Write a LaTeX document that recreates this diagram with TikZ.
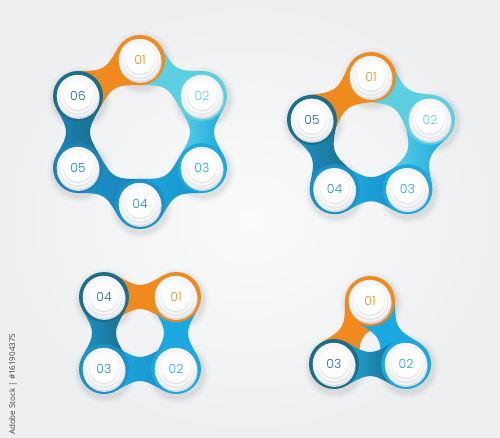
\documentclass[tikz,border=0pt]{standalone}
\usepackage{fontspec}
\setmainfont{Poppins}[UprightFont=* Light]
\newfontfamily\wmfont{Open Sans}
\usetikzlibrary{calc}
\definecolor{orng}{HTML}{F08A1E}
\definecolor{lcyan}{HTML}{5CCFE0}
\definecolor{cyanb}{HTML}{1CA8E0}
\definecolor{blueb}{HTML}{1A92C9}
\definecolor{mblue}{HTML}{1A83B8}
\definecolor{tealb}{HTML}{1B6E88}
\definecolor{rimA}{HTML}{DCDFE2}
\definecolor{rimB}{HTML}{E6E8EA}
\definecolor{diskA}{HTML}{F3F4F5}
\definecolor{diskB}{HTML}{FAFAFB}
\definecolor{bgin}{HTML}{FBFBFB}
\definecolor{bgout}{HTML}{EDEFF0}
\definecolor{wmgray}{HTML}{444444}
\tikzset{
  lbl/.style={text=#1, font=\fontsize{12.5}{12.5}\selectfont, inner sep=0pt},
  wmtext/.style={text=wmgray, font=\wmfont\fontsize{8}{8}\selectfont, inner sep=0pt},
}
% connector between two named unit centres, shaded from colour #3 to colour #4
\newcommand\mylink[4]{%
  \path let \p1=(#1), \p2=(#2),
    \n1={atan2(\y2-\y1,\x2-\x1)}, \n2={veclen(\x2-\x1,\y2-\y1)} in
    \pgfextra{\xdef\lkang{\n1}\xdef\lkdist{\n2}};
  \begin{scope}[shift={(#1)}, rotate=\lkang]
    \shade[left color=#3, right color=#4] (12.5,21.7) .. controls (34.9,8.75) and ({\lkdist-34.9},8.75) .. ({\lkdist-12.5},21.7)
      -- ({\lkdist-12.5},-21.7) .. controls ({\lkdist-34.9},-8.75) and (34.9,-8.75) .. (12.5,-21.7) -- cycle;
  \end{scope}}
\newcommand\unitshadow[1]{%
  \foreach \r/\o in {32/0.02,29.5/0.03,27.5/0.04}
    \fill[black,opacity=\o] ($(#1)+(1.5,3)$) circle (\r pt);}
\newcommand\unitdisk[3]{%
  \fill[#2] (#1) circle (25pt);
  \fill[rimA] ($(#1)+(0.3,1.6)$) circle (21.3pt);
  \fill[diskA] ($(#1)+(-0.3,-0.2)$) circle (21pt);
  \fill[rimB] ($(#1)+(0,1.2)$) circle (18pt);
  \fill[diskB] ($(#1)+(0,-0.4)$) circle (17.6pt);
  \fill[rimB] ($(#1)+(0,0.8)$) circle (14.6pt);
  \fill[white] ($(#1)+(0,-0.6)$) circle (14.2pt);
  \node[lbl=#2] (#1l) at (#1) {#3};}
\begin{document}
\begin{tikzpicture}[x=1pt,y=-1pt]
\shade[inner color=bgin, outer color=bgout] (0,0) rectangle (500,437);
\useasboundingbox (0,0) rectangle (500,437);
% centres
\coordinate (h1) at (140,60);  \coordinate (h2) at (202,96);
\coordinate (h3) at (202,168); \coordinate (h4) at (140,204);
\coordinate (h5) at (78,168);  \coordinate (h6) at (78,96);
\coordinate (p1) at (371,77);    \coordinate (p2) at (430,119.8);
\coordinate (p3) at (407.4,189.2); \coordinate (p4) at (334.6,189.2);
\coordinate (p5) at (312,119.8);
\coordinate (q1) at (176,297); \coordinate (q2) at (176,369);
\coordinate (q3) at (104,369); \coordinate (q4) at (104,297);
\coordinate (t1) at (370,301); \coordinate (t2) at (406,364);
\coordinate (t3) at (334,364);
% shadows
\foreach \u in {h1,h2,h3,h4,h5,h6,p1,p2,p3,p4,p5,q1,q2,q3,q4,t1,t2,t3} {\unitshadow{\u}}
% connectors
\mylink{h6}{h1}{orng}{orng} \mylink{h1}{h2}{lcyan}{lcyan} \mylink{h2}{h3}{lcyan}{cyanb}
\mylink{h3}{h4}{cyanb}{blueb} \mylink{h4}{h5}{blueb}{mblue} \mylink{h5}{h6}{mblue}{tealb}
\mylink{p5}{p1}{orng}{orng} \mylink{p1}{p2}{lcyan}{lcyan} \mylink{p2}{p3}{lcyan}{cyanb}
\mylink{p3}{p4}{cyanb}{blueb} \mylink{p4}{p5}{blueb}{tealb}
\mylink{q4}{q1}{orng}{orng} \mylink{q1}{q2}{cyanb}{cyanb} \mylink{q2}{q3}{cyanb}{blueb}
\mylink{q3}{q4}{blueb}{tealb}
\mylink{t3}{t1}{orng}{orng} \mylink{t1}{t2}{cyanb}{cyanb} \mylink{t2}{t3}{cyanb}{tealb}
% units
\unitdisk{h1}{orng}{01} \unitdisk{h2}{lcyan}{02} \unitdisk{h3}{cyanb}{03}
\unitdisk{h4}{blueb}{04} \unitdisk{h5}{mblue}{05} \unitdisk{h6}{tealb}{06}
\unitdisk{p1}{orng}{01} \unitdisk{p2}{lcyan}{02} \unitdisk{p3}{cyanb}{03}
\unitdisk{p4}{blueb}{04} \unitdisk{p5}{tealb}{05}
\unitdisk{q1}{orng}{01} \unitdisk{q2}{cyanb}{02} \unitdisk{q3}{blueb}{03}
\unitdisk{q4}{tealb}{04}
\unitdisk{t1}{orng}{01} \unitdisk{t2}{cyanb}{02} \unitdisk{t3}{tealb}{03}
% vertical credit line
\node[wmtext, rotate=90, anchor=west] (wm) at (13,435) {Adobe Stock | \#161904375};
\end{tikzpicture}
\end{document}
